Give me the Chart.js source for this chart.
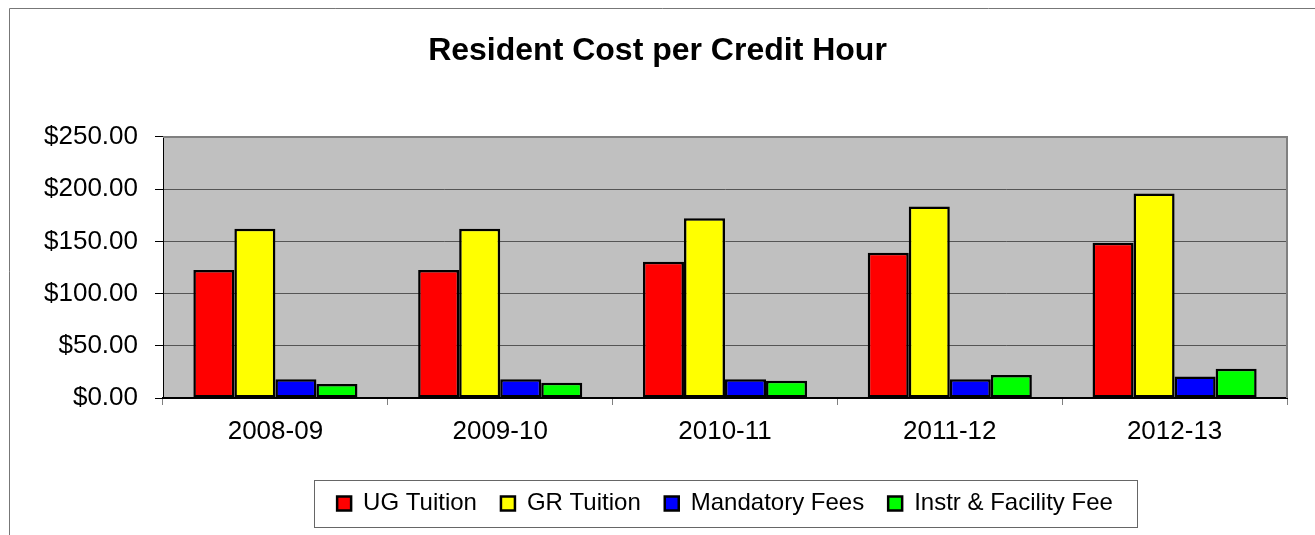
<!DOCTYPE html>
<html>
<head>
<meta charset="utf-8">
<script src="https://cdn.jsdelivr.net/npm/chart.js@4.4.1/dist/chart.umd.min.js"></script>
<style>
  html, body { margin: 0; padding: 0; background: #fff; overflow: hidden; }
  #wrap { width: 1315px; height: 535px; }
</style>
</head>
<body>
<div id="wrap"><canvas id="chart" width="1315" height="535"></canvas></div>
<script>
// Resident cost per credit hour
const years = ['2008-09', '2009-10', '2010-11', '2011-12', '2012-13'];
const ugTuition = [122.5, 122.5, 130.5, 139, 148.75];
const grTuition = [162, 162, 172, 183.25, 195.75];
const mandatoryFees = [18, 18, 18, 18, 20.5];
const instrFacilityFee = [13.5, 14.5, 16.5, 22, 28];
const yTicks = [0, 50, 100, 150, 200, 250];

const FONT = "'Liberation Sans', Arial, sans-serif";

// Bar Dataset Helper
function barDataset(label, data, color) {
  return {
    label,
    data,
    backgroundColor: color,
    borderColor: '#000',
    borderWidth: 2.5,
    borderSkipped: false,
    categoryPercentage: 0.73,
    barPercentage: 1.0,
  };
}

// frame, plot background and legend box
const framePlugin = {
  id: 'frame',
  beforeDraw(chart) {
    const { ctx, chartArea: a } = chart;
    ctx.save();
    ctx.strokeStyle = '#777';
    ctx.lineWidth = 1;
    ctx.beginPath();
    ctx.moveTo(9.5, chart.height);
    ctx.lineTo(9.5, 8.5);
    ctx.lineTo(chart.width, 8.5);
    ctx.stroke();
    ctx.fillStyle = '#C0C0C0';
    ctx.fillRect(a.left, a.top, a.right - a.left, a.bottom - a.top);
    ctx.restore();
  },
  afterDraw(chart) {
    const { ctx, chartArea: a } = chart;
    ctx.save();
    ctx.strokeStyle = '#808080';
    ctx.lineWidth = 2;
    ctx.beginPath();
    ctx.moveTo(a.left, a.top);
    ctx.lineTo(a.right, a.top);
    ctx.lineTo(a.right, a.bottom);
    ctx.stroke();

    const hb = chart.legend.legendHitBoxes;
    if (hb && hb.length) {
      const first = hb[0];
      const last = hb[hb.length - 1];
      const cy = first.top + first.height / 2;
      const x0 = Math.round(first.left - 23) + 0.5;
      const x1 = Math.round(last.left + last.width + 24) + 0.5;
      ctx.strokeStyle = '#666';
      ctx.lineWidth = 1;
      ctx.strokeRect(x0, Math.round(cy - 23.5) + 0.5, x1 - x0, 47);
    }
    ctx.restore();
  }
};

new Chart(document.getElementById('chart'), {
  type: 'bar',
  data: {
    labels: years,
    datasets: [
      barDataset('UG Tuition', ugTuition, '#FF0000'),
      barDataset('GR Tuition', grTuition, '#FFFF00'),
      barDataset('Mandatory Fees', mandatoryFees, '#0000FF'),
      barDataset('Instr & Facility Fee', instrFacilityFee, '#00FF00'),
    ]
  },
  options: {
    responsive: false,
    devicePixelRatio: 1,
    animation: false,
    layout: { padding: { left: 28, right: 28, top: 0, bottom: 9.5 } },
    plugins: {
      title: {
        display: true,
        text: 'Resident Cost per Credit Hour',
        color: '#000',
        font: { family: FONT, size: 32, weight: 'bold' },
        padding: { top: 32, bottom: 66.5 }
      },
      legend: {
        position: 'bottom',
        fullSize: false,
        labels: {
          color: '#000',
          font: { family: FONT, size: 24 },
          boxWidth: 14,
          boxHeight: 14,
          padding: 24
        }
      },
      tooltip: { enabled: false }
    },
    scales: {
      x: {
        grid: { drawOnChartArea: false, drawTicks: true, tickLength: 7, color: '#808080', offset: true },
        border: { color: '#000', width: 2 },
        ticks: { color: '#000', font: { family: FONT, size: 26 }, padding: 11, maxRotation: 0 },
        afterFit(scale) { scale.height = 69.5; }
      },
      y: {
        min: 0,
        max: 250,
        afterBuildTicks(scale) { scale.ticks = yTicks.map(v => ({ value: v })); },
        grid: { color: '#555', lineWidth: 1, tickLength: 8, tickColor: '#000' },
        border: { color: '#000', width: 1 },
        ticks: {
          color: '#000',
          font: { family: FONT, size: 26 },
          padding: 17,
          callback: (v) => '$' + Number(v).toFixed(2)
        },
        afterFit(scale) { scale.width = 135; }
      }
    }
  },
  plugins: [framePlugin]
});
</script>
</body>
</html>
